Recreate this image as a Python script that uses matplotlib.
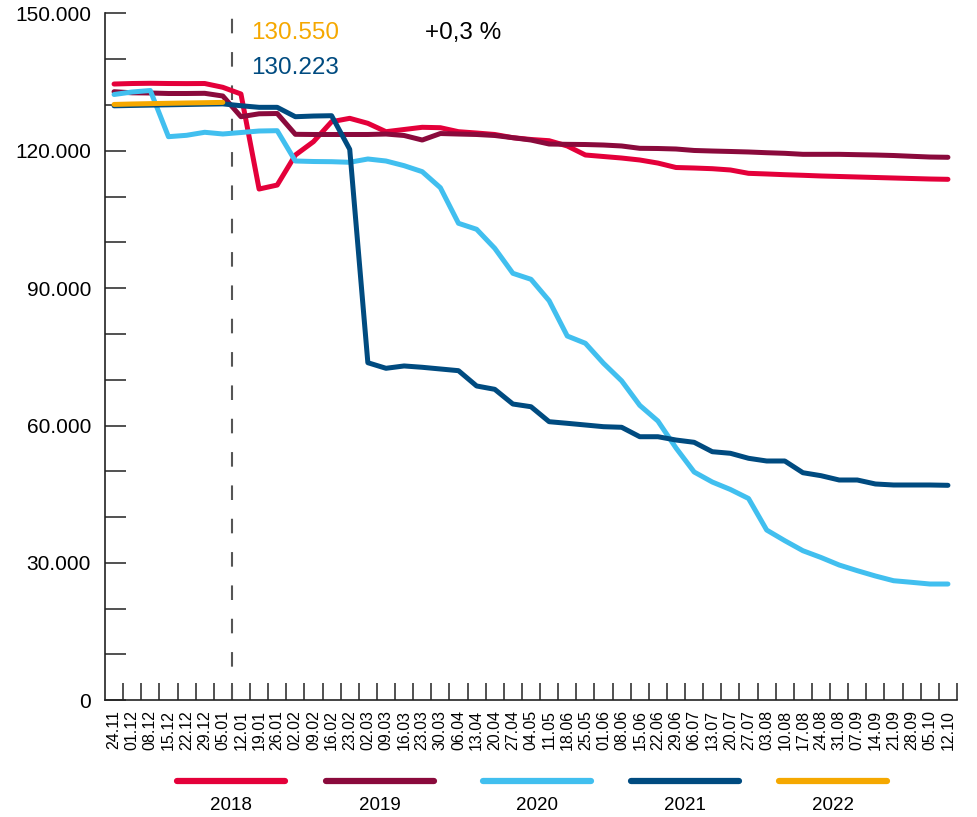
import matplotlib
matplotlib.use("Agg")
import matplotlib.pyplot as plt
from matplotlib.lines import Line2D

plt.rcParams['font.family'] = ['Liberation Sans', 'DejaVu Sans']

weeks = ["24.11", "01.12", "08.12", "15.12", "22.12", "29.12", "05.01", "12.01",
         "19.01", "26.01", "02.02", "09.02", "16.02", "23.02", "02.03", "09.03",
         "16.03", "23.03", "30.03", "06.04", "13.04", "20.04", "27.04", "04.05",
         "11.05", "18.06", "25.05", "01.06", "08.06", "15.06", "22.06", "29.06",
         "06.07", "13.07", "20.07", "27.07", "03.08", "10.08", "17.08", "24.08",
         "31.08", "07.09", "14.09", "21.09", "28.09", "05.10", "12.10"]

y2018 = [134560, 134670, 134720, 134670, 134650, 134670, 133840, 132380,
         111630, 112500, 119050, 121970, 126330, 127070, 125980, 124150,
         124630, 125110, 125020, 124150, 123860, 123540, 122840, 122450,
         122180, 121030, 119060, 118730, 118400, 117970, 117300, 116330,
         116220, 116070, 115790, 115060, 114920, 114760, 114630, 114480,
         114370, 114260, 114150, 114040, 113930, 113820, 113750]

y2019 = [132880, 132640, 132600, 132490, 132490, 132530, 131940, 127420,
         128060, 128120, 123580, 123540, 123540, 123540, 123540, 123640,
         123320, 122330, 123750, 123640, 123540, 123320, 122840, 122330,
         121460, 121390, 121350, 121240, 121030, 120520, 120480, 120370,
         120050, 119930, 119830, 119720, 119560, 119430, 119210, 119210,
         119210, 119130, 119060, 118950, 118780, 118620, 118560]

y2020 = [132270, 132820, 133140, 123060, 123360, 124020, 123650, 123970,
         124300, 124370, 117750, 117640, 117600, 117470, 118190, 117750,
         116730, 115420, 111920, 104150, 102840, 98690, 93230, 91920,
         87250, 79540, 77950, 73580, 69750, 64400, 60980, 55090,
         49850, 47660, 46030, 44060, 37180, 34850, 32660, 31180,
         29540, 28300, 27140, 26110, 25760, 25390, 25390]

y2021 = [129800, 129880, 129950, 130020, 130090, 130160, 130223, 129820,
         129470, 129470, 127420, 127570, 127640, 120300, 73710, 72490,
         73000, 72710, 72340, 71970, 68630, 67900, 64690, 64100,
         60830, 60480, 60110, 59740, 59610, 57550, 57550, 56830,
         56330, 54280, 53930, 52840, 52250, 52250, 49690, 49040,
         48100, 48100, 47230, 47010, 47010, 47010, 46940]

y2022 = [130100, 130200, 130280, 130350, 130420, 130480, 130550]

series_names = ["2018", "2019", "2020", "2021", "2022"]
colors = ["#E4003A", "#8A0A3C", "#41BFEF", "#004B80", "#F5A800"]

yticks = list(range(0, 150001, 10000))

fig = plt.figure(figsize=(9.77, 8.17), dpi=100)
ax = fig.add_axes([0.10747, 0.14284, 0.87206, 0.84088])

x = list(range(len(weeks)))
lw = 3.6
for data, c in zip([y2018, y2019, y2020, y2021, y2022], colors):
    ax.plot(x[:len(data)], data, color=c, lw=lw, solid_capstyle='round',
            solid_joinstyle='round', zorder=3)

ax.axvline(6.5, color="#555555", lw=1.5, dashes=(7, 9), zorder=2)

ax.set_xlim(-0.5, len(weeks) - 0.5)
ax.set_ylim(0, 150000)

# y axis
ax.set_yticks(yticks)
ax.set_yticklabels([f"{v:,}".replace(",", ".") if v % 30000 == 0 else "" for v in yticks])
ax.tick_params(axis='y', direction='in', length=15, width=1.1, pad=10,
               labelsize=15, color='#222222')

# x axis: marks at boundaries, labels at centres
ax.set_xticks([i - 0.5 for i in range(1, len(weeks) + 1)])
ax.set_xticklabels([])
ax.set_xticks(x, minor=True)
ax.set_xticklabels(weeks, minor=True, rotation=90, fontsize=11.5)
ax.tick_params(axis='x', which='major', direction='in', length=12.5, width=1.1,
               color='#222222')
ax.tick_params(axis='x', which='minor', length=0, pad=7)

for s in ["top", "right"]:
    ax.spines[s].set_visible(False)
for s in ["left", "bottom"]:
    ax.spines[s].set_linewidth(1.2)
    ax.spines[s].set_color('#222222')

# annotations
ax.text(7.55, 144320, "130.550", color=colors[4], fontsize=17.5, va='baseline', ha='left')
ax.text(7.55, 136680, "130.223", color=colors[3], fontsize=17.5, va='baseline', ha='left')
ax.text(17.15, 144320, "+0,3 %", color='black', fontsize=17.5, va='baseline', ha='left')

# legend (lines with labels beneath)
leg_x = [231, 379.5, 537, 685, 833]
for name, c, cx in zip(series_names, colors, leg_x):
    x0 = (cx - 54) / 977
    x1 = (cx + 54) / 977
    yy = 1 - 780.5 / 817
    fig.add_artist(Line2D([x0, x1], [yy, yy], color=c, lw=4.5,
                          solid_capstyle='round', transform=fig.transFigure))
    fig.text(cx / 977, 1 - 805 / 817, name, ha='center', va='center',
             fontsize=13.5, family=['Liberation Sans Narrow', 'Liberation Sans', 'DejaVu Sans'])

fig.savefig("out.png", dpi=100)
